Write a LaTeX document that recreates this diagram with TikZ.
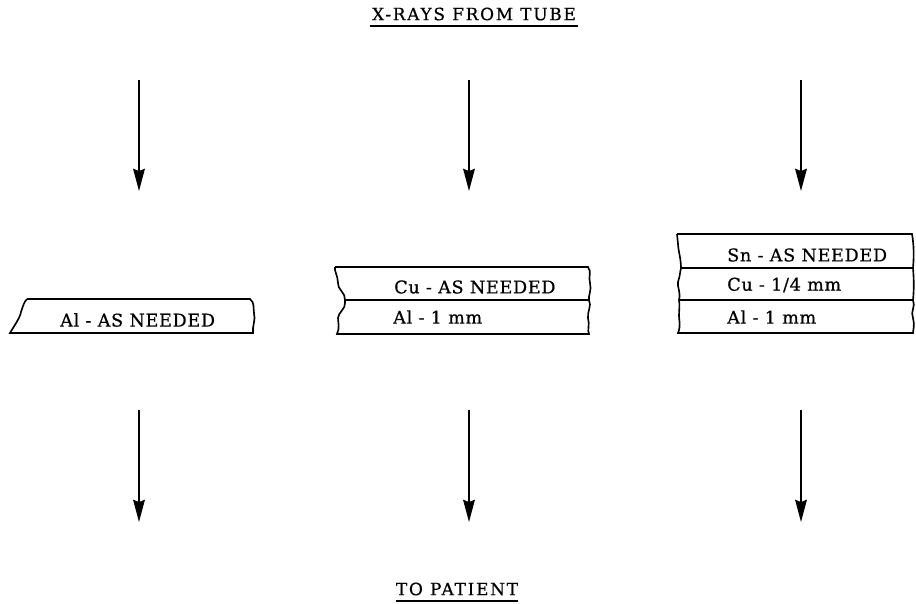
\documentclass[tikz,border=0pt]{standalone}
\usepackage{fontspec}
\setmainfont{DejaVu Serif}
\newfontfamily\trackedserif[LetterSpace=4,FakeBold=0.6]{DejaVu Serif}
\newfontfamily\wideserif[LetterSpace=10,FakeBold=0.6]{DejaVu Serif}
\usetikzlibrary{arrows.meta}
\begin{document}
\begin{tikzpicture}[x=0.03cm,y=-0.03cm,
  ray/.style={line width=1.5pt,-{Stealth[length=19pt,width=10pt,inset=2pt]}},
  filter/.style={line width=1.4pt},
  label/.style={font=\trackedserif\fontsize{15}{17}\selectfont, inner sep=0pt, anchor=west},
  heading/.style={font=\wideserif\fontsize{14.5}{17}\selectfont, inner sep=0pt}]
\useasboundingbox (0,0) rectangle (916,603);

% headings
\node[heading] (src) at (474,14) {X-RAYS FROM TUBE};
\draw[line width=1.2pt] (370,26) -- (578,26);
\node[heading] (dst) at (457,589) {TO PATIENT};
\draw[line width=1.2pt] (396,601) -- (518,601);

% incoming and outgoing beams
\foreach \n/\x in {a/139,b/469,c/801}{
  \coordinate (top\n) at (\x,80);
  \coordinate (in\n) at (\x,191);
  \coordinate (out\n) at (\x,410);
  \coordinate (end\n) at (\x,522);
  \draw[ray] (top\n) -- (in\n);
  \draw[ray] (out\n) -- (end\n);
}

% filter 1: aluminium only
\draw[filter] (27,299) -- (250,299)
  .. controls (255,303) and (253,308) .. (254,313)
  .. controls (256,320) and (252,326) .. (253,333)
  -- (10,333)
  .. controls (14,326) and (20,318) .. (21,312)
  .. controls (23,306) and (24,302) .. (27,299);
\node[label] (al1) at (60,320) {Al - AS NEEDED};

% filter 2: copper + aluminium
\draw[filter] (335,267) -- (588,267)
  .. controls (592,272) and (588,277) .. (590,283)
  .. controls (592,290) and (588,296) .. (589,300)
  .. controls (592,306) and (587,312) .. (588,318)
  .. controls (590,325) and (587,330) .. (589,334)
  -- (337,334)
  .. controls (340,328) and (338,322) .. (338,318)
  .. controls (338,313) and (346,308) .. (345,303)
  -- (345,300)
  .. controls (346,293) and (337,289) .. (338,283)
  .. controls (338,276) and (334,271) .. (335,267);
\draw[filter] (345,300) -- (589,300);
\node[label] (cu2) at (394,287) {Cu - AS NEEDED};
\node[label] (al2) at (393,317) {Al - 1 mm};

% filter 3: tin + copper + aluminium
\draw[filter] (677,234) -- (912,234)
  .. controls (914,245) and (914,257) .. (913,268)
  .. controls (914,280) and (914,290) .. (913,300)
  .. controls (916,306) and (910,312) .. (913,318)
  .. controls (915,325) and (913,330) .. (913,333)
  -- (678,333)
  .. controls (681,326) and (679,320) .. (679,316)
  .. controls (679,310) and (680,305) .. (679,300)
  .. controls (681,292) and (677,287) .. (678,282)
  .. controls (680,276) and (680,272) .. (681,268)
  .. controls (681,258) and (678,250) .. (678,244)
  -- (677,234);
\draw[filter] (681,268) -- (913,268);
\draw[filter] (679,300) -- (913,300);
\node[label] (sn3) at (727,255) {Sn - AS NEEDED};
\node[label] (cu3) at (727,285) {Cu - 1/4 mm};
\node[label] (al3) at (727,317) {Al - 1 mm};
\end{tikzpicture}
\end{document}
